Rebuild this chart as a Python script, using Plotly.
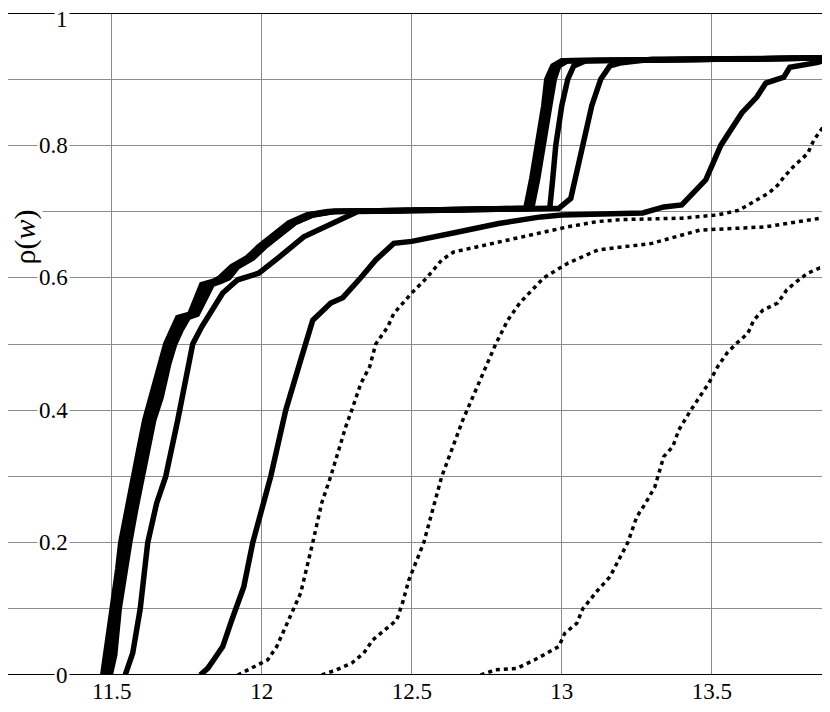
#%% -*- coding: utf-8 -*-
"""
Empirical distributions rho(w) - solid and dotted curves
"""

import plotly.graph_objects as go

# ---- data -----------------------------------------------------------------
# bundle of solid curves (leftmost group)
a1_w = [11.47, 11.48, 11.50, 11.52, 11.53, 11.55, 11.57, 11.59, 11.61, 11.63, 11.66, 11.68, 11.70, 11.72,
        11.76, 11.78, 11.80, 11.84, 11.86, 11.90, 11.95, 11.99, 12.04, 12.09, 12.15, 12.22, 12.5, 12.88,
        12.90, 12.92, 12.94, 12.95, 12.97, 13.0, 13.89]
a1_r = [0, 0.03, 0.10, 0.16, 0.20, 0.25, 0.30, 0.34, 0.385, 0.42, 0.47, 0.50, 0.52, 0.54,
        0.545, 0.57, 0.59, 0.595, 0.60, 0.617, 0.63, 0.647, 0.665, 0.683, 0.695, 0.70, 0.702, 0.705,
        0.75, 0.80, 0.86, 0.90, 0.92, 0.928, 0.932]

a2_w = [11.48, 11.49, 11.51, 11.53, 11.545, 11.56, 11.58, 11.60, 11.62, 11.645, 11.67, 11.69, 11.71, 11.735,
        11.77, 11.79, 11.82, 11.85, 11.88, 11.91, 11.96, 12.00, 12.05, 12.10, 12.16, 12.23, 12.5, 12.89,
        12.91, 12.93, 12.95, 12.96, 12.98, 13.01, 13.89]
a2_r = a1_r

a3_w = [11.49, 11.50, 11.52, 11.54, 11.555, 11.575, 11.59, 11.615, 11.635, 11.66, 11.685, 11.70, 11.725, 11.75,
        11.78, 11.80, 11.83, 11.86, 11.89, 11.92, 11.97, 12.01, 12.06, 12.11, 12.17, 12.24, 12.5, 12.90,
        12.92, 12.94, 12.96, 12.975, 12.99, 13.02, 13.89]
a3_r = a1_r

a4_w = [11.495, 11.51, 11.525, 11.545, 11.56, 11.58, 11.60, 11.62, 11.64, 11.665, 11.69, 11.71, 11.73, 11.755,
        11.785, 11.81, 11.835, 11.865, 11.89, 11.92, 11.97, 12.01, 12.06, 12.11, 12.17, 12.24, 12.6, 12.96,
        12.97, 12.98, 13.0, 13.02, 13.04, 13.08, 13.89]
a4_r = a1_r

b_w = [11.545, 11.57, 11.595, 11.62, 11.65, 11.68, 11.72, 11.75, 11.77, 11.80, 11.84, 11.87, 11.92, 11.99,
       12.06, 12.14, 12.24, 12.32, 12.6, 12.99, 13.03, 13.05, 13.07, 13.10, 13.13, 13.16, 13.2, 13.3, 13.89]
b_r = [0, 0.033, 0.10, 0.20, 0.26, 0.30, 0.385, 0.45, 0.50, 0.526, 0.555, 0.577, 0.597, 0.607,
       0.632, 0.662, 0.683, 0.70, 0.702, 0.705, 0.72, 0.76, 0.80, 0.86, 0.90, 0.92, 0.925, 0.93, 0.932]

d_w = [11.795, 11.82, 11.84, 11.87, 11.90, 11.94, 11.97, 12.0, 12.03, 12.06, 12.08, 12.13, 12.17, 12.23,
       12.27, 12.33, 12.38, 12.44, 12.5, 12.63, 12.79, 12.93, 13.0, 13.27, 13.34, 13.4, 13.44, 13.48,
       13.53, 13.6, 13.65, 13.68, 13.74, 13.76, 13.85, 13.89]
d_r = [0, 0.01, 0.023, 0.043, 0.083, 0.133, 0.20, 0.25, 0.30, 0.36, 0.40, 0.476, 0.536, 0.562,
       0.57, 0.60, 0.627, 0.652, 0.655, 0.667, 0.682, 0.692, 0.695, 0.698, 0.707, 0.71, 0.73, 0.748,
       0.80, 0.849, 0.873, 0.894, 0.903, 0.918, 0.925, 0.93]

# dotted curves
e_w = [11.92, 11.97, 12.02, 12.05, 12.08, 12.13, 12.17, 12.2, 12.23, 12.26, 12.28, 12.30, 12.33, 12.36,
       12.38, 12.42, 12.44, 12.5, 12.55, 12.6, 12.64, 12.72, 12.82, 12.93, 13.02, 13.12, 13.2, 13.4,
       13.52, 13.59, 13.65, 13.69, 13.72, 13.74, 13.77, 13.82, 13.84, 13.89]
e_r = [0, 0.012, 0.023, 0.043, 0.073, 0.124, 0.20, 0.26, 0.30, 0.345, 0.375, 0.40, 0.44, 0.466,
       0.50, 0.526, 0.546, 0.577, 0.60, 0.627, 0.639, 0.647, 0.657, 0.667, 0.677, 0.685, 0.688, 0.69,
       0.695, 0.702, 0.717, 0.728, 0.74, 0.752, 0.767, 0.788, 0.808, 0.84]

f_w = [12.2, 12.25, 12.3, 12.34, 12.37, 12.41, 12.45, 12.47, 12.49, 12.54, 12.6, 12.67, 12.73, 12.78,
       12.82, 12.86, 12.94, 13.02, 13.12, 13.3, 13.34, 13.46, 13.68, 13.76, 13.89]
f_r = [0, 0.008, 0.018, 0.033, 0.053, 0.068, 0.083, 0.11, 0.143, 0.20, 0.30, 0.385, 0.446, 0.50,
       0.536, 0.562, 0.60, 0.622, 0.642, 0.652, 0.657, 0.672, 0.677, 0.683, 0.692]

g_w = [12.73, 12.78, 12.85, 12.91, 12.97, 12.99, 13.01, 13.05, 13.07, 13.12, 13.16, 13.19, 13.22, 13.25,
       13.28, 13.31, 13.32, 13.34, 13.37, 13.39, 13.43, 13.49, 13.52, 13.55, 13.58, 13.62, 13.64, 13.67,
       13.72, 13.75, 13.79, 13.82, 13.86, 13.89]
g_r = [0, 0.008, 0.01, 0.023, 0.038, 0.043, 0.063, 0.078, 0.10, 0.128, 0.148, 0.174, 0.20, 0.239,
       0.26, 0.284, 0.30, 0.33, 0.345, 0.37, 0.40, 0.441, 0.466, 0.486, 0.50, 0.516, 0.536, 0.551,
       0.562, 0.582, 0.597, 0.607, 0.615, 0.617]

solid = [(a1_w, a1_r), (a2_w, a2_r), (a3_w, a3_r), (a4_w, a4_r), (b_w, b_r), (d_w, d_r)]
dotted = [(e_w, e_r), (f_w, f_r), (g_w, g_r)]

x_ticks = [11.5, 12, 12.5, 13, 13.5]
x_ticktext = ["11.5", "12", "12.5", "13", "13.5"]
y_labels = [0, 0.2, 0.4, 0.6, 0.8, 1]

font = "Liberation Serif, DejaVu Serif, serif"
size = 23

#%% figure
fig = go.Figure()

for w, r in solid:
    fig.add_trace(go.Scatter(x=w, y=r, mode="lines", line=dict(color="black", width=5.5), showlegend=False))
for w, r in dotted:
    fig.add_trace(go.Scatter(x=w, y=r, mode="lines", line=dict(color="black", width=3.5, dash="4px,4px"),
                             showlegend=False))

# heavy lines at 0 and 1
for yv in (0, 1):
    fig.add_shape(type="line", xref="paper", yref="y", x0=0, x1=1, y0=yv, y1=yv,
                  line=dict(color="black", width=2), layer="above")

# y tick labels sit over the grid lines (the top one nudged down so it is not clipped)
for v in y_labels:
    fig.add_annotation(x=11.36, y=v if v < 1 else 0.99, xref="x", yref="y", text=f"{v:g}", showarrow=False,
                       xanchor="right", yanchor="middle", bgcolor="white", borderpad=1,
                       font=dict(family=font, size=size, color="black"))

fig.add_annotation(x=13.244, y=-0.036, xref="x", yref="y", text="<i>w</i>", showarrow=False,
                   xanchor="center", yanchor="middle", font=dict(family=font, size=34, color="black"))
fig.add_annotation(x=11.21, y=0.662, xref="x", yref="y", text="ρ(<i>w</i>)", showarrow=False,
                   textangle=-90, xanchor="center", yanchor="middle", bgcolor="white", borderpad=0,
                   font=dict(family=font, size=30, color="black"))

# the page adds an 8px body margin, so the figure is 8px smaller each way
fig.update_layout(
    width=822, height=704,
    margin=dict(l=0, r=0, t=5, b=37),
    plot_bgcolor="white", paper_bgcolor="white",
    font=dict(family=font, size=size, color="black"),
    xaxis=dict(range=[11.1543, 13.894], tickvals=x_ticks, ticktext=x_ticktext, showgrid=True,
               gridcolor="#8c8c8c", gridwidth=1, zeroline=False, showline=False, ticks="",
               tickfont=dict(family=font, size=size)),
    yaxis=dict(range=[0, 1], dtick=0.1, showticklabels=False, showgrid=True,
               gridcolor="#8c8c8c", gridwidth=1, zeroline=False, showline=False, ticks=""),
)

fig.write_html("out.html")
